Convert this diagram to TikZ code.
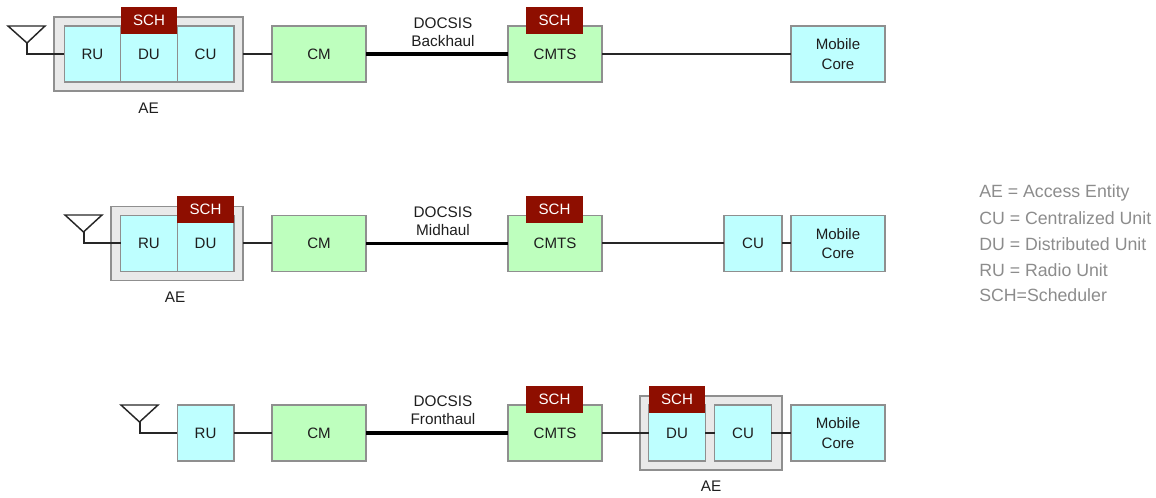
\documentclass[tikz,border=0pt]{standalone}
\usepackage{fontspec}
\setmainfont{Liberation Sans}
\definecolor{bluefill}{HTML}{BEFFFF}
\definecolor{greenfill}{HTML}{BEFFBE}
\definecolor{aefill}{HTML}{E9E9E9}
\definecolor{edgegray}{HTML}{8F8F8F}
\definecolor{schred}{HTML}{8E0E00}
\definecolor{txt}{HTML}{1E1E1E}
\definecolor{legendtxt}{HTML}{8C8C8C}
\tikzset{
  x=0.75pt,y=-0.75pt,
  base/.style={draw=edgegray,line width=1.1pt,inner sep=0pt,outer sep=0pt,text=txt,font=\fontsize{11.3}{13.8}\selectfont,align=center},
  bluebox/.style={base,fill=bluefill,minimum height=42.2pt},
  greenbox/.style={base,fill=greenfill,minimum width=70.5pt,minimum height=42.2pt},
  unitbox/.style={bluebox,minimum width=42.4pt},
  corebox/.style={bluebox,minimum width=70.5pt},
  aebox/.style={base,fill=aefill,minimum height=55.5pt},
  schbox/.style={fill=schred,text=white,inner sep=0pt,outer sep=0pt,minimum width=42.4pt,minimum height=20.3pt,font=\fontsize{11.3}{13.8}\selectfont},
  lab/.style={inner sep=0pt,text=txt,font=\fontsize{11.5}{13.8}\selectfont,align=center},
  legend/.style={inner sep=0pt,anchor=west,text=legendtxt,font=\fontsize{13.3}{15}\selectfont},
  wire/.style={draw=black!85,line width=1.5pt},
  thickwire/.style={draw=black,line width=2.5pt},
  antenna/.style={draw=black!85,line width=1.1pt,line join=miter}
}
\begin{document}
\begin{tikzpicture}
\useasboundingbox (0,0) rectangle (1156,498);
% Row 1
\node[aebox,minimum width=141.7pt] (aeA) at (148.5,54) {};
\node[unitbox] (ruA) at (92.5,54) {RU};
\node[unitbox] (duA) at (149,54) {DU};
\node[unitbox] (cuA) at (205.5,54) {CU};
\node[schbox] (schA) at (149,20.5) {SCH};
\node[greenbox] (cmA) at (319,54) {CM};
\node[greenbox] (cmtsA) at (555,54) {CMTS};
\node[schbox] (schcA) at (554.5,20.5) {SCH};
\node[corebox] (mcA) at (838,54) {Mobile\\[1pt]Core};
\node[lab] (aelA) at (148.5,108) {AE};
\node[lab] (dA) at (443,32) {DOCSIS\\Backhaul};
\coordinate (tlA) at (8,26); \coordinate (trA) at (45,26); \coordinate (apA) at (27,43); \coordinate (bendA) at (27,54);
\draw[antenna] (tlA) -- (trA) -- (apA) -- cycle;
\draw[wire] (apA) -- (bendA) -- (ruA.west |- bendA);
\draw[wire] (aeA.east) -- (cmA.west);
\draw[thickwire] (cmA.east) -- (cmtsA.west);
\draw[wire] (cmtsA.east) -- (mcA.west);
% Row 2
\node[aebox,minimum width=99pt] (aeB) at (177,243.5) {};
\node[unitbox] (ruB) at (149,243.5) {RU};
\node[unitbox] (duB) at (205.5,243.5) {DU};
\node[schbox] (schB) at (205.5,209.5) {SCH};
\node[greenbox] (cmB) at (319,243.5) {CM};
\node[greenbox] (cmtsB) at (555,243.5) {CMTS};
\node[schbox] (schcB) at (554.5,209.5) {SCH};
\node[unitbox,minimum width=43.5pt] (cuB) at (753,243.5) {CU};
\node[corebox] (mcB) at (838,243.5) {Mobile\\[1pt]Core};
\node[lab] (aelB) at (175,297) {AE};
\node[lab] (dB) at (443,221) {DOCSIS\\Midhaul};
\coordinate (tlB) at (65,215); \coordinate (trB) at (102,215); \coordinate (apB) at (83.5,232); \coordinate (bendB) at (83.5,243.5);
\draw[antenna] (tlB) -- (trB) -- (apB) -- cycle;
\draw[wire] (apB) -- (bendB) -- (ruB.west |- bendB);
\draw[wire] (aeB.east) -- (cmB.west);
\draw[thickwire] (cmB.east) -- (cmtsB.west);
\draw[wire] (cmtsB.east) -- (cuB.west);
\draw[wire] (cuB.east) -- (mcB.west);
% Row 3
\node[unitbox] (ruC) at (205.5,433) {RU};
\node[greenbox] (cmC) at (319,433) {CM};
\node[greenbox] (cmtsC) at (555,433) {CMTS};
\node[schbox] (schcC) at (554.5,399.5) {SCH};
\node[aebox,minimum width=106.5pt] (aeC) at (711,433) {};
\node[unitbox] (duC) at (677,433) {DU};
\node[unitbox] (cuC) at (743,433) {CU};
\node[schbox] (schC) at (677,399.5) {SCH};
\node[corebox] (mcC) at (838,433) {Mobile\\[1pt]Core};
\node[lab] (aelC) at (711,486) {AE};
\node[lab] (dC) at (443,410.5) {DOCSIS\\Fronthaul};
\coordinate (tlC) at (121,405); \coordinate (trC) at (158,405); \coordinate (apC) at (139.5,422); \coordinate (bendC) at (139.5,433);
\draw[antenna] (tlC) -- (trC) -- (apC) -- cycle;
\draw[wire] (apC) -- (bendC) -- (ruC.west |- bendC);
\draw[wire] (ruC.east) -- (cmC.west);
\draw[thickwire] (cmC.east) -- (cmtsC.west);
\draw[wire] (cmtsC.east) -- (duC.west);
\draw[wire] (duC.east) -- (cuC.west);
\draw[wire] (cuC.east) -- (mcC.west);
% Legend
\node[legend] (l1) at (979,193) {AE = Access Entity};
\node[legend] (l2) at (979,218.5) {CU = Centralized Unit};
\node[legend] (l3) at (979,244) {DU = Distributed Unit};
\node[legend] (l4) at (979,270) {RU = Radio Unit};
\node[legend] (l5) at (979,295.5) {SCH=Scheduler};
\end{tikzpicture}
\end{document}
